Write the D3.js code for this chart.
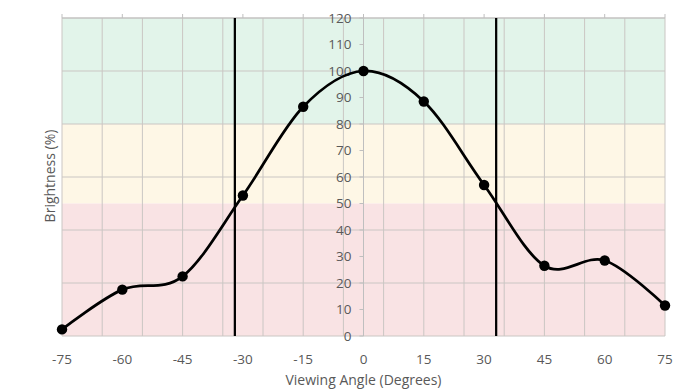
<!DOCTYPE html>
<html>
<head>
<meta charset="utf-8">
<script src="https://cdn.jsdelivr.net/npm/d3@7"></script>
<style>
  body { margin: 0; background: #fff; }
  svg text { font-family: "Open Sans", "Liberation Sans", sans-serif; fill: #595959; }
</style>
</head>
<body>
<svg width="690" height="390"></svg>
<script>
// ---- Data ----
var angles = [-75, -60, -45, -30, -15, 0, 15, 30, 45, 60, 75];
var brightness = [2.5, 17.5, 22.5, 53, 86.5, 100, 88.5, 57, 26.5, 28.5, 11.5];
var xTicks = [-75, -60, -45, -30, -15, 0, 15, 30, 45, 60, 75];
var yTicks = [0, 10, 20, 30, 40, 50, 60, 70, 80, 90, 100, 110, 120];
var bands = [
    {from: 80, to: 120, color: "#e2f4ea"},
    {from: 50, to: 80, color: "#fef7e6"},
    {from: 0, to: 50, color: "#f9e3e4"}
];
var markerLines = [-32, 33];

var svg = d3.select("svg");

// plot area (avoid "top", it's window.top)
var plotL = 62, plotR = 665, plotT = 18, plotB = 336;

var x = d3.scaleLinear().domain([-75, 75]).range([plotL, plotR]);
var y = d3.scaleLinear().domain([0, 120]).range([plotB, plotT]);

// bands
svg.append("g").selectAll("rect")
    .data(bands)
    .enter()
    .append("rect")
    .attr("x", plotL)
    .attr("width", plotR - plotL)
    .attr("y", function(d) { return y(d.to); })
    .attr("height", function(d) { return y(d.from) - y(d.to); })
    .attr("fill", function(d) { return d.color; });

// grid - vertical every 10 deg starting at -75
var vGrid = d3.range(-75, 76, 10);
svg.append("g").selectAll("line")
    .data(vGrid)
    .enter()
    .append("line")
    .attr("x1", function(d) { return x(d); })
    .attr("x2", function(d) { return x(d); })
    .attr("y1", plotT)
    .attr("y2", plotB)
    .attr("stroke", "#cac6c3")
    .attr("stroke-width", 1);

// grid - horizontal every 20
var hGrid = d3.range(0, 121, 20);
svg.append("g").selectAll("line")
    .data(hGrid)
    .enter()
    .append("line")
    .attr("x1", plotL)
    .attr("x2", plotR)
    .attr("y1", function(d) { return y(d); })
    .attr("y2", function(d) { return y(d); })
    .attr("stroke", "#cac6c3")
    .attr("stroke-width", 1);

// top axis line with ticks pointing up
svg.append("line")
    .attr("x1", plotL).attr("x2", plotR)
    .attr("y1", plotT).attr("y2", plotT)
    .attr("stroke", "#bfbfbf");
svg.append("g").selectAll("line")
    .data(xTicks)
    .enter()
    .append("line")
    .attr("x1", function(d) { return x(d); })
    .attr("x2", function(d) { return x(d); })
    .attr("y1", plotT - 4)
    .attr("y2", plotT)
    .attr("stroke", "#bfbfbf");

// x tick labels at the bottom
svg.append("g").selectAll("text")
    .data(xTicks)
    .enter()
    .append("text")
    .attr("x", function(d) { return x(d); })
    .attr("y", 364)
    .attr("text-anchor", "middle")
    .style("font-size", "13.5px")
    .text(function(d) { return d; });

// y axis in the middle (x = 0)
svg.append("line")
    .attr("x1", x(0)).attr("x2", x(0))
    .attr("y1", plotT).attr("y2", plotB)
    .attr("stroke", "#bfbfbf");
svg.append("g").selectAll("line")
    .data(yTicks)
    .enter()
    .append("line")
    .attr("x1", x(0) - 4)
    .attr("x2", x(0))
    .attr("y1", function(d) { return y(d); })
    .attr("y2", function(d) { return y(d); })
    .attr("stroke", "#bfbfbf");
svg.append("g").selectAll("text")
    .data(yTicks)
    .enter()
    .append("text")
    .attr("x", x(0) - 12)
    .attr("y", function(d) { return y(d) + 4.8; })
    .attr("text-anchor", "end")
    .style("font-size", "13.5px")
    .text(function(d) { return d; });

// black vertical lines
svg.append("g").selectAll("line")
    .data(markerLines)
    .enter()
    .append("line")
    .attr("x1", function(d) { return x(d); })
    .attr("x2", function(d) { return x(d); })
    .attr("y1", plotT)
    .attr("y2", plotB)
    .attr("stroke", "#000")
    .attr("stroke-width", 2.25);

// data line
var pts = angles.map(function(a, i) { return [a, brightness[i]]; });
var line = d3.line()
    .x(function(d) { return x(d[0]); })
    .y(function(d) { return y(d[1]); })
    .curve(d3.curveCardinal.tension(0));

svg.append("path")
    .datum(pts)
    .attr("d", line)
    .attr("fill", "none")
    .attr("stroke", "#000")
    .attr("stroke-width", 2.75);

svg.append("g").selectAll("circle")
    .data(pts)
    .enter()
    .append("circle")
    .attr("cx", function(d) { return x(d[0]); })
    .attr("cy", function(d) { return y(d[1]); })
    .attr("r", 5.2)
    .attr("fill", "#000");

// axis titles
svg.append("text")
    .attr("x", x(0))
    .attr("y", 385)
    .attr("text-anchor", "middle")
    .style("font-size", "14px")
    .text("Viewing Angle (Degrees)");

svg.append("text")
    .attr("transform", "translate(55," + 176 + ") rotate(-90)")
    .attr("text-anchor", "middle")
    .style("font-size", "14px")
    .text("Brightness (%)");
</script>
</body>
</html>
